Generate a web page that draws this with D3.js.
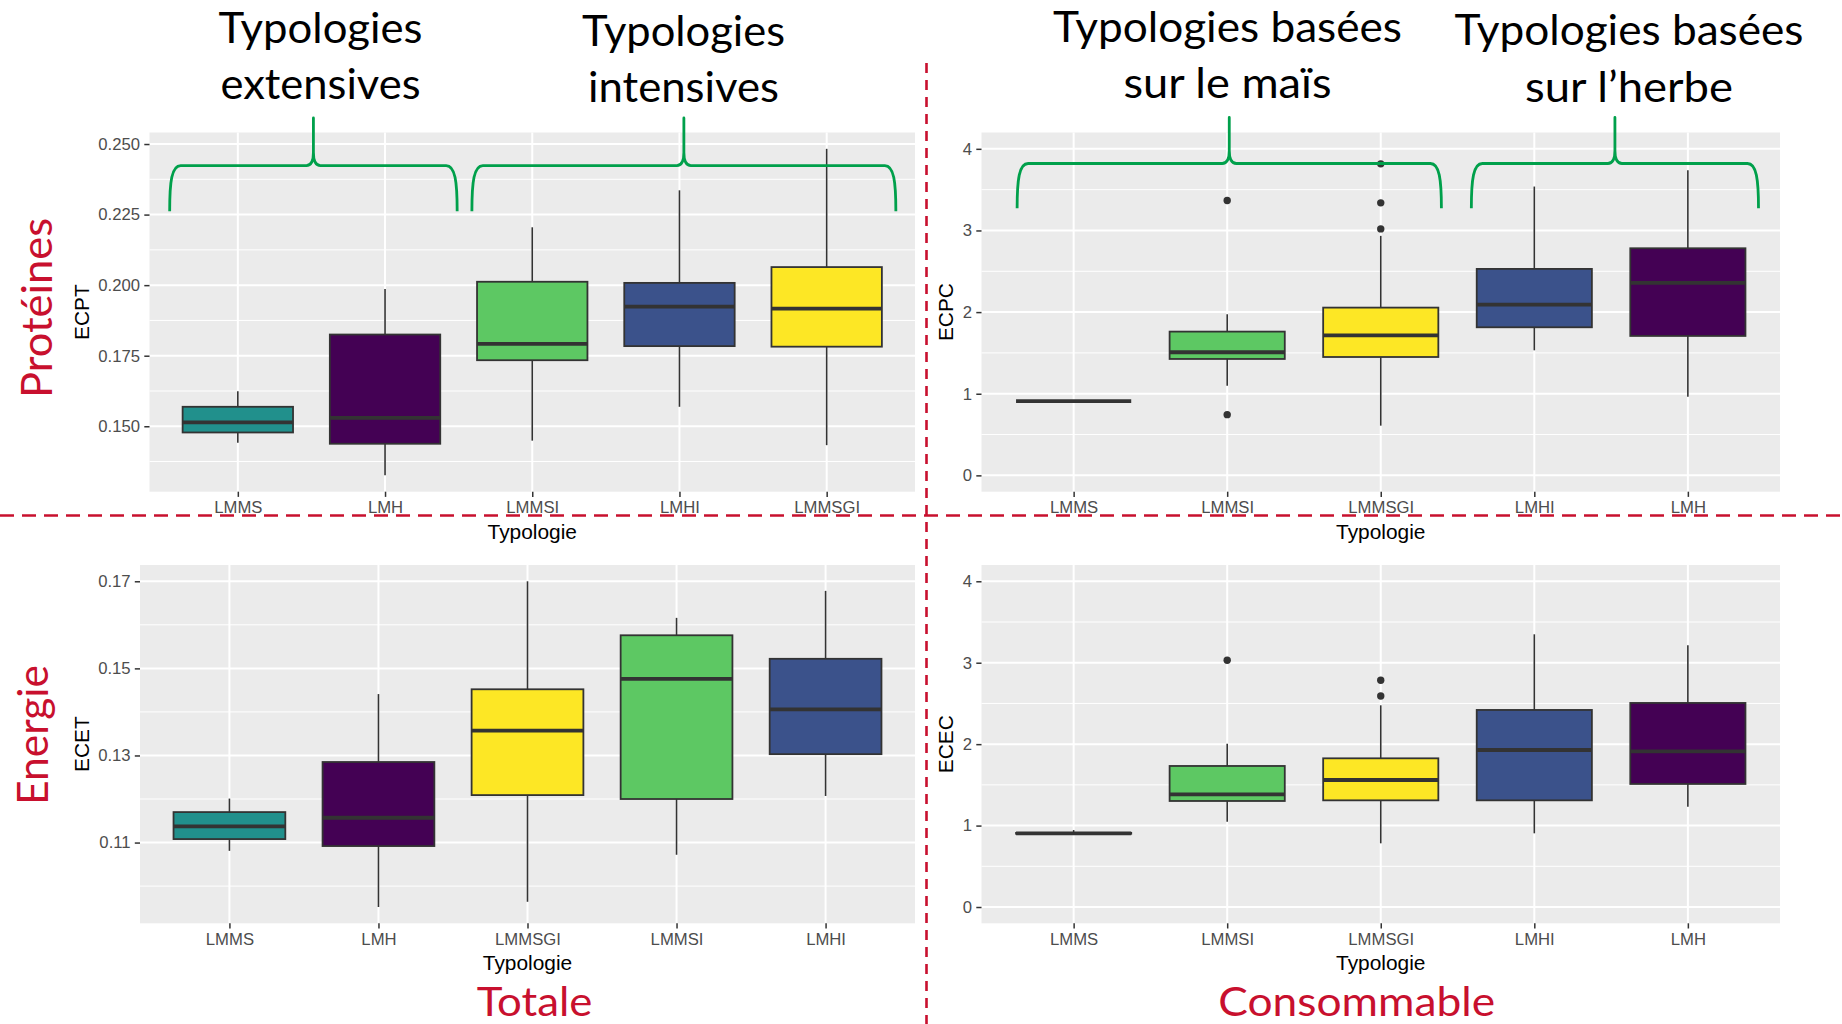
<!DOCTYPE html>
<html>
<head>
<meta charset="utf-8">
<script src="https://cdn.jsdelivr.net/npm/d3@7"></script>
<style>
  html, body { margin: 0; padding: 0; background: #ffffff; }
  svg { display: block; }
</style>
</head>
<body>
<svg id="fig" width="1842" height="1024"></svg>
<script>
// ---- Protéines, totale (ECPT) ----
const ecptTypologies = ["LMMS", "LMH", "LMMSI", "LMHI", "LMMSGI"];
// [lower whisker, Q1, median, Q3, upper whisker]
const ecptBoxes = [
  [0.1442, 0.1478, 0.1514, 0.1569, 0.1624],
  [0.1326, 0.1438, 0.1530, 0.1825, 0.1986],
  [0.1449, 0.1734, 0.1792, 0.2012, 0.2205],
  [0.1569, 0.1784, 0.1924, 0.2008, 0.2336],
  [0.1433, 0.1782, 0.1917, 0.2064, 0.2483]
];
const ecptOutliers = [[], [], [], [], []];
const ecptTicks = [0.150, 0.175, 0.200, 0.225, 0.250];

// ---- Protéines, consommable (ECPC) ----
const ecpcTypologies = ["LMMS", "LMMSI", "LMMSGI", "LMHI", "LMH"];
const ecpcBoxes = [
  [0.91, 0.91, 0.91, 0.91, 0.91],
  [1.099, 1.426, 1.508, 1.761, 1.973],
  [0.609, 1.450, 1.716, 2.055, 2.934],
  [1.532, 1.814, 2.092, 2.529, 3.538],
  [0.964, 1.708, 2.357, 2.782, 3.738]
];
const ecpcOutliers = [[], [3.367, 0.744], [3.816, 3.338, 3.019], [], []];
const ecpcTicks = [0, 1, 2, 3, 4];

// ---- Energie, totale (ECET) ----
const ecetTypologies = ["LMMS", "LMH", "LMMSGI", "LMMSI", "LMHI"];
const ecetBoxes = [
  [0.1081, 0.1108, 0.1137, 0.1170, 0.1201],
  [0.0952, 0.1092, 0.1157, 0.1285, 0.1441],
  [0.0964, 0.1209, 0.1357, 0.1452, 0.1700],
  [0.1072, 0.1200, 0.1476, 0.1576, 0.1616],
  [0.1207, 0.1303, 0.1406, 0.1522, 0.1678]
];
const ecetOutliers = [[], [], [], [], []];
const ecetTicks = [0.11, 0.13, 0.15, 0.17];

// ---- Energie, consommable (ECEC) ----
const ececTypologies = ["LMMS", "LMMSI", "LMMSGI", "LMHI", "LMH"];
const ececBoxes = [
  [0.900, 0.900, 0.905, 0.910, 0.945],
  [1.048, 1.302, 1.384, 1.732, 2.006],
  [0.782, 1.310, 1.560, 1.826, 2.477],
  [0.905, 1.310, 1.928, 2.420, 3.349],
  [1.232, 1.511, 1.912, 2.506, 3.214]
];
const ececOutliers = [[], [3.030], [2.784, 2.592], [], []];
const ececTicks = [0, 1, 2, 3, 4];

// Fill colour of each typology (viridis)
const typologyColours = {
  LMH: "#440154", LMHI: "#3B528B", LMMS: "#21908C", LMMSI: "#5DC863", LMMSGI: "#FDE725"
};

// Group captions above the top panels
const groupLines = [
  ["Typologies", "extensives"],
  ["Typologies", "intensives"],
  ["Typologies basées", "sur le maïs"],
  ["Typologies basées", "sur l\u2019herbe"]
];
const rowLabels = ["Protéines", "Energie"];
const columnLabels = ["Totale", "Consommable"];

const RED = "#C8102E";
const GREEN = "#00A04B";
const svg = d3.select("#fig");
const chartFont = "'Liberation Sans', Arial, sans-serif";
const titleFont = "Lato, 'Open Sans', sans-serif";

function expand(lo, hi) {
  const pad = (hi - lo) * 0.05;
  return [lo - pad, hi + pad];
}

function drawPanel(cfg) {
  const { box, cats, stats, outliers, ticks, fmt, limits, yTitle } = cfg;
  const g = svg.append("g");

  const x = d3.scalePoint().domain(cats).range([box.left, box.right]).padding(0.6);
  const step = x.step();
  let lo, hi;
  if (limits) { [lo, hi] = limits; }
  else {
    const all = stats.flat().concat(outliers.flat());
    lo = d3.min(all); hi = d3.max(all);
  }
  const y = d3.scaleLinear().domain(expand(lo, hi)).range([box.bottom, box.top]);

  // panel background
  g.append("rect")
    .attr("x", box.left).attr("y", box.top)
    .attr("width", box.right - box.left).attr("height", box.bottom - box.top)
    .attr("fill", "#EBEBEB");

  // minor grid
  const tStep = ticks[1] - ticks[0];
  const minors = ticks.map(t => t - tStep / 2).concat([ticks[ticks.length - 1] + tStep / 2])
    .filter(v => v >= y.domain()[0] && v <= y.domain()[1]);
  g.selectAll(".minor").data(minors).join("line")
    .attr("x1", box.left).attr("x2", box.right)
    .attr("y1", d => y(d)).attr("y2", d => y(d))
    .attr("stroke", "#ffffff").attr("stroke-width", 1);

  // major grid
  g.selectAll(".major").data(ticks).join("line")
    .attr("x1", box.left).attr("x2", box.right)
    .attr("y1", d => y(d)).attr("y2", d => y(d))
    .attr("stroke", "#ffffff").attr("stroke-width", 2);
  g.selectAll(".vgrid").data(cats).join("line")
    .attr("x1", d => x(d)).attr("x2", d => x(d))
    .attr("y1", box.top).attr("y2", box.bottom)
    .attr("stroke", "#ffffff").attr("stroke-width", 2);

  // y axis
  const yAxis = d3.axisLeft(y).tickValues(ticks).tickFormat(d3.format(fmt))
    .tickSize(5.2).tickPadding(4.2);
  const ya = g.append("g").attr("transform", `translate(${box.left},0)`).call(yAxis);
  ya.select(".domain").remove();
  ya.selectAll(".tick line").attr("stroke", "#333333").attr("stroke-width", 1.5);
  ya.selectAll(".tick text").attr("fill", "#4D4D4D")
    .style("font-family", chartFont).style("font-size", "16.7px");

  // x axis
  const xAxis = d3.axisBottom(x).tickSize(5.2).tickPadding(4.2);
  const xa = g.append("g").attr("transform", `translate(0,${box.bottom})`).call(xAxis);
  xa.select(".domain").remove();
  xa.selectAll(".tick line").attr("stroke", "#333333").attr("stroke-width", 1.5);
  xa.selectAll(".tick text").attr("fill", "#4D4D4D")
    .style("font-family", chartFont).style("font-size", "16.7px");

  // axis titles
  let labelLeft = box.left;
  ya.selectAll(".tick text").each(function () {
    const b = this.getBBox();
    const ctm = this.getCTM();
    labelLeft = Math.min(labelLeft, b.x + ctm.e);
  });
  g.append("text")
    .attr("transform", `translate(${labelLeft - 9.5},${(box.top + box.bottom) / 2}) rotate(-90)`)
    .attr("text-anchor", "middle")
    .style("font-family", chartFont).style("font-size", "20.9px")
    .attr("fill", "#000000").text(yTitle);
  g.append("text")
    .attr("x", (box.left + box.right) / 2).attr("y", box.bottom + 46.8)
    .attr("text-anchor", "middle")
    .style("font-family", chartFont).style("font-size", "20.9px")
    .attr("fill", "#000000").text("Typologie");

  // boxes
  const bw = step * 0.75;
  const rows = cats.map((c, i) => ({ cat: c, s: stats[i], out: outliers[i] }));
  const bx = g.selectAll(".box").data(rows).join("g");
  bx.append("line")
    .attr("x1", d => x(d.cat)).attr("x2", d => x(d.cat))
    .attr("y1", d => y(d.s[4])).attr("y2", d => y(d.s[3]))
    .attr("stroke", "#333333").attr("stroke-width", 1.6);
  bx.append("line")
    .attr("x1", d => x(d.cat)).attr("x2", d => x(d.cat))
    .attr("y1", d => y(d.s[1])).attr("y2", d => y(d.s[0]))
    .attr("stroke", "#333333").attr("stroke-width", 1.6);
  bx.append("rect")
    .attr("x", d => x(d.cat) - bw / 2).attr("width", bw)
    .attr("y", d => y(d.s[3])).attr("height", d => y(d.s[1]) - y(d.s[3]))
    .attr("fill", d => typologyColours[d.cat])
    .attr("stroke", "#333333").attr("stroke-width", 1.8);
  bx.append("line")
    .attr("x1", d => x(d.cat) - bw / 2).attr("x2", d => x(d.cat) + bw / 2)
    .attr("y1", d => y(d.s[2])).attr("y2", d => y(d.s[2]))
    .attr("stroke", "#333333").attr("stroke-width", 3.8);
  bx.each(function (d) {
    d3.select(this).selectAll("circle").data(d.out).join("circle")
      .attr("cx", x(d.cat)).attr("cy", v => y(v)).attr("r", 3.7)
      .attr("fill", "#333333");
  });

  return { x, y, step };
}

// Curly brace spanning a group of typologies
function brace(p, fromCat, toCat, padL, padR, top, cfg) {
  const x0 = p.x(fromCat) - padL * p.step;
  const x1 = p.x(toCat) + padR * p.step;
  const xm = (x0 + x1) / 2;
  const yb = top + cfg.bar, ye = top + cfg.end, yt = top + cfg.tip;
  const d = [
    `M${x0},${ye}`,
    `C${x0},${yb + 16} ${x0 + 2},${yb} ${x0 + 11},${yb}`,
    `L${xm - 7},${yb}`,
    `C${xm - 2},${yb} ${xm},${yb - 4} ${xm},${yb - 13}`,
    `L${xm},${yt}`,
    `L${xm},${yb - 13}`,
    `C${xm},${yb - 4} ${xm + 2},${yb} ${xm + 7},${yb}`,
    `L${x1 - 11},${yb}`,
    `C${x1 - 2},${yb} ${x1},${yb + 16} ${x1},${ye}`
  ].join(" ");
  svg.append("path").attr("d", d)
    .attr("fill", "none").attr("stroke", GREEN).attr("stroke-width", 2.8)
    .attr("stroke-linejoin", "round").attr("stroke-linecap", "butt");
  return xm;
}

const pECPT = drawPanel({
  box: { left: 149.5, right: 915, top: 132.5, bottom: 491.7 },
  cats: ecptTypologies, stats: ecptBoxes, outliers: ecptOutliers,
  ticks: ecptTicks, fmt: ".3f", yTitle: "ECPT"
});
const pECPC = drawPanel({
  box: { left: 981.5, right: 1780, top: 132.5, bottom: 491.7 },
  cats: ecpcTypologies, stats: ecpcBoxes, outliers: ecpcOutliers,
  ticks: ecpcTicks, fmt: "d", limits: [0, 4], yTitle: "ECPC"
});
drawPanel({
  box: { left: 140, right: 915, top: 565, bottom: 923.3 },
  cats: ecetTypologies, stats: ecetBoxes, outliers: ecetOutliers,
  ticks: ecetTicks, fmt: ".2f", yTitle: "ECET"
});
drawPanel({
  box: { left: 981.5, right: 1780, top: 565, bottom: 923.3 },
  cats: ececTypologies, stats: ececBoxes, outliers: ececOutliers,
  ticks: ececTicks, fmt: "d", limits: [0, 4], yTitle: "ECEC"
});

// braces over the top panels
const braceLeft = { bar: 33.1, end: 78.7, tip: -14.5 };
const braceRight = { bar: 31, end: 75.7, tip: -15 };
brace(pECPT, "LMMS", "LMH", 0.463, 0.49, 132.5, braceLeft);
brace(pECPT, "LMMSI", "LMMSGI", 0.41, 0.47, 132.5, braceLeft);
brace(pECPC, "LMMS", "LMMSGI", 0.368, 0.395, 132.5, braceRight);
brace(pECPC, "LMHI", "LMH", 0.41, 0.46, 132.5, braceRight);

// group captions
const captionPos = [
  { cx: 320.5, b1: 42.5, b2: 98.7, w: [204, 200] },
  { cx: 683.5, b1: 45.8, b2: 102.2, w: [203, 191] },
  { cx: 1227.5, b1: 42, b2: 97.8, w: [349, 208] },
  { cx: 1629, b1: 44.6, b2: 102.2, w: [349, 208] }
];
groupLines.forEach((lines, i) => {
  const pos = captionPos[i];
  [pos.b1, pos.b2].forEach((b, j) => {
    svg.append("text")
      .attr("x", pos.cx).attr("y", b)
      .attr("text-anchor", "middle")
      .attr("textLength", pos.w[j]).attr("lengthAdjust", "spacingAndGlyphs")
      .style("font-family", titleFont).style("font-size", "42px")
      .attr("fill", "#000000").text(lines[j]);
  });
});

// row labels (rotated) and column labels
[{ t: rowLabels[0], x: 51.5, y: 308, w: 180 }, { t: rowLabels[1], x: 48.3, y: 735, w: 140 }]
  .forEach(r => {
    svg.append("text")
      .attr("transform", `translate(${r.x},${r.y}) rotate(-90)`)
      .attr("text-anchor", "middle")
      .attr("textLength", r.w).attr("lengthAdjust", "spacingAndGlyphs")
      .style("font-family", titleFont).style("font-size", "43px")
      .attr("fill", RED).text(r.t);
  });
[{ t: columnLabels[0], x: 534.5, y: 1015.5, w: 115.7 }, { t: columnLabels[1], x: 1356.7, y: 1015.5, w: 276.7 }]
  .forEach(c => {
    svg.append("text")
      .attr("x", c.x).attr("y", c.y)
      .attr("text-anchor", "middle")
      .attr("textLength", c.w).attr("lengthAdjust", "spacingAndGlyphs")
      .style("font-family", titleFont).style("font-size", "41px")
      .attr("fill", RED).text(c.t);
  });

// dashed separators between the four panels
svg.append("line")
  .attr("x1", 0).attr("x2", 1842).attr("y1", 515.5).attr("y2", 515.5)
  .attr("stroke", RED).attr("stroke-width", 2.6).attr("stroke-dasharray", "14,8");
svg.append("line")
  .attr("x1", 926.5).attr("x2", 926.5).attr("y1", 63).attr("y2", 1024)
  .attr("stroke", RED).attr("stroke-width", 2.6).attr("stroke-dasharray", "10,7");
</script>
</body>
</html>
